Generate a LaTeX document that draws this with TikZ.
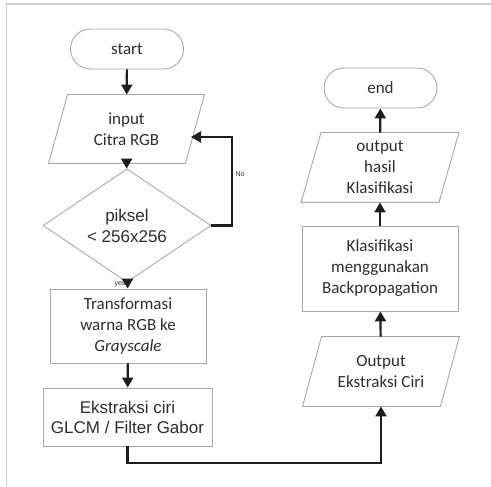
\documentclass[tikz,border=0pt]{standalone}
\usepackage{fontspec}
\setmainfont{Carlito}
\newfontfamily\arialf{Liberation Sans}
\usetikzlibrary{shapes.geometric,shapes.misc,arrows.meta,calc}
\definecolor{bordergray}{HTML}{A8A8A8}
\definecolor{framegray}{HTML}{CCCCCC}
\definecolor{txtgray}{HTML}{2E2E2E}
\definecolor{arrowc}{HTML}{1E1E1E}
\tikzset{
  base/.style={draw=bordergray, line width=0.9pt, inner sep=0pt, text=txtgray, align=center,
    font=\fontsize{17}{21}\selectfont},
  afont/.style={font=\arialf\fontsize{17}{20}\selectfont},
  term/.style={base, rounded rectangle, minimum width=113, minimum height=40},
  procbox/.style={base, rectangle, minimum width=156},
  parabody/.style={base, draw=none, rectangle, minimum width=137, minimum height=69},
  paraline/.style={draw=bordergray, line width=0.9pt},
  decis/.style={base, diamond, minimum width=168, minimum height=75},
  arr/.style={draw=arrowc, line width=2.2pt, -{Triangle[length=10pt,width=11pt]}},
  small/.style={font=\arialf\fontsize{7}{8}\selectfont, text=txtgray, inner sep=0pt}
}
\newcommand\parashape[2]{\draw[paraline] ($(#1.south west)+(-#2,0)$) -- ($(#1.north west)+(#2,0)$) -- ($(#1.north east)+(#2,0)$) -- ($(#1.south east)+(-#2,0)$) -- cycle;}
\begin{document}
\begin{tikzpicture}[x=1pt,y=-1pt]
\useasboundingbox (0,0) rectangle (491,487);
\fill[white] (0,0) rectangle (491,487);
\draw[framegray, line width=1.5pt] (6.5,487) -- (6.5,4) -- (491,4);

% left column
\node[term] (start) at (127,49) {start};
\node[parabody, minimum width=136, minimum height=68] (in) at (126.5,129) {input\\Citra RGB};
\parashape{in}{9.5}
\node[decis] (dec) at (127,225.5) {\arialf piksel\\\arialf < 256x256};
\node[procbox, minimum height=74] (tr) at (128,326) {Transformasi\\warna RGB ke\\\textit{Grayscale}};
\node[procbox, afont, minimum width=169, minimum height=58] (ek) at (127.5,417) {Ekstraksi ciri\\GLCM / Filter Gabor};

% right column
\node[parabody] (oe) at (381,371.5) {Output\\Ekstraksi Ciri};
\parashape{oe}{9.5}
\node[procbox, minimum height=85] (kl) at (380,268.5) {Klasifikasi\\menggunakan\\Backpropagation};
\node[parabody] (oh) at (380,167.5) {output\\hasil\\Klasifikasi};
\parashape{oh}{10}
\node[term] (end) at (380.5,88) {end};

% connectors
\draw[arr] (start) -- (in);
\draw[arr] (in) -- (dec);
\draw[arr] (dec) -- node[small, pos=0.35, left=1pt] {yes} (tr);
\draw[arr] (tr) -- (ek);
\coordinate (noend) at (191,137);
\draw[arr] (dec.east) -| (232,137) -- (noend);
\node[small] (nolabel) at (240,174) {No};
\coordinate (bend) at (127.5,463);
\draw[arr] (ek.south) -- (bend) -| (oe.south);
\draw[arr] (oe) -- (kl);
\draw[arr] (kl) -- (oh);
\draw[arr] (oh) -- (end);
\end{tikzpicture}
\end{document}
